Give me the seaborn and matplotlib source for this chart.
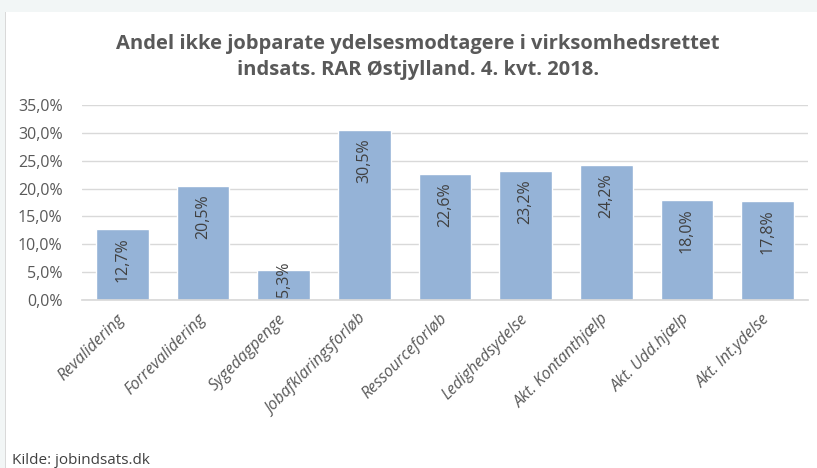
import matplotlib
matplotlib.use("Agg")
import matplotlib.pyplot as plt
import seaborn as sns
import pandas as pd
from matplotlib.ticker import FuncFormatter
from matplotlib.patches import Rectangle

categories = ["Revalidering", "Forrevalidering", "Sygedagpenge", "Jobafklaringsforløb",
              "Ressourceforløb", "Ledighedsydelse", "Akt. Kontanthjælp", "Akt. Udd.hjælp",
              "Akt. Int.ydelse"]
values = [12.7, 20.5, 5.3, 30.5, 22.6, 23.2, 24.2, 18.0, 17.8]
labels = ["12,7%", "20,5%", "5,3%", "30,5%", "22,6%", "23,2%", "24,2%", "18,0%", "17,8%"]

sns.set_theme(style="white")
plt.rcParams['font.family'] = ['Open Sans', 'DejaVu Sans']

df = pd.DataFrame({"cat": categories, "val": values})

fig = plt.figure(figsize=(8.17, 4.68), dpi=100)
# background strips
fig.patches.append(Rectangle((0, 1 - 12/468), 1, 12/468, transform=fig.transFigure,
                             facecolor="#f2f6f6", edgecolor="none", zorder=0))
fig.patches.append(Rectangle((0, 0), 5/817, 1 - 12/468, transform=fig.transFigure,
                             facecolor="#f2f6f6", edgecolor="none", zorder=0))
fig.patches.append(Rectangle((5/817, 0), 1/817, 1 - 12/468, transform=fig.transFigure,
                             facecolor="#d9d9d9", edgecolor="none", zorder=0))

ax = fig.add_axes([82/817, 1 - 300/468, (808 - 82)/817, (300 - 105)/468])
sns.barplot(data=df, x="cat", y="val", color="#95b3d7", saturation=1, width=0.65, ax=ax, zorder=2)

ax.set_ylim(0, 35)
ax.set_xlim(-0.5, len(categories) - 0.5)
ax.set_yticks([0, 5, 10, 15, 20, 25, 30, 35])
ax.yaxis.set_major_formatter(FuncFormatter(lambda v, p: f"{v:.1f}%".replace(".", ",")))
ax.grid(axis="y", color="#d9d9d9", linewidth=1, zorder=0)
ax.set_axisbelow(True)
for s in ["top", "right", "left"]:
    ax.spines[s].set_visible(False)
ax.spines["bottom"].set_color("#d9d9d9")
ax.set_xlabel("")
ax.set_ylabel("")
ax.tick_params(axis="y", labelsize=11.5, colors="#595959", length=0, pad=14)
ax.tick_params(axis="x", labelsize=11.5, colors="#595959", length=0, pad=12)
for t in ax.get_xticklabels():
    t.set_rotation(45)
    t.set_ha("right")
    t.set_va("center")
    t.set_rotation_mode("anchor")
    t.set_style("italic")

for i, (v, lab) in enumerate(zip(values, labels)):
    if v < 8:
        ax.annotate(lab, xy=(i, 0), xytext=(0, 2), textcoords="offset points",
                    rotation=90, ha="center", va="bottom", fontsize=11.5, color="#404040")
    else:
        ax.annotate(lab, xy=(i, v), xytext=(0, -6), textcoords="offset points",
                    rotation=90, ha="center", va="top", fontsize=11.5, color="#404040")

fig.text(418/817, 1 - 57/468, "Andel ikke jobparate ydelsesmodtagere i virksomhedsrettet\nindsats. RAR Østjylland. 4. kvt. 2018.",
         ha="center", va="center", fontsize=14.5, fontweight="bold", color="#595959",
         linespacing=1.45)
fig.text(12/817, 1 - 460/468, "Kilde: jobindsats.dk", ha="left", va="center",
         fontsize=11, color="#404040")

fig.savefig("out.png", dpi=100)
